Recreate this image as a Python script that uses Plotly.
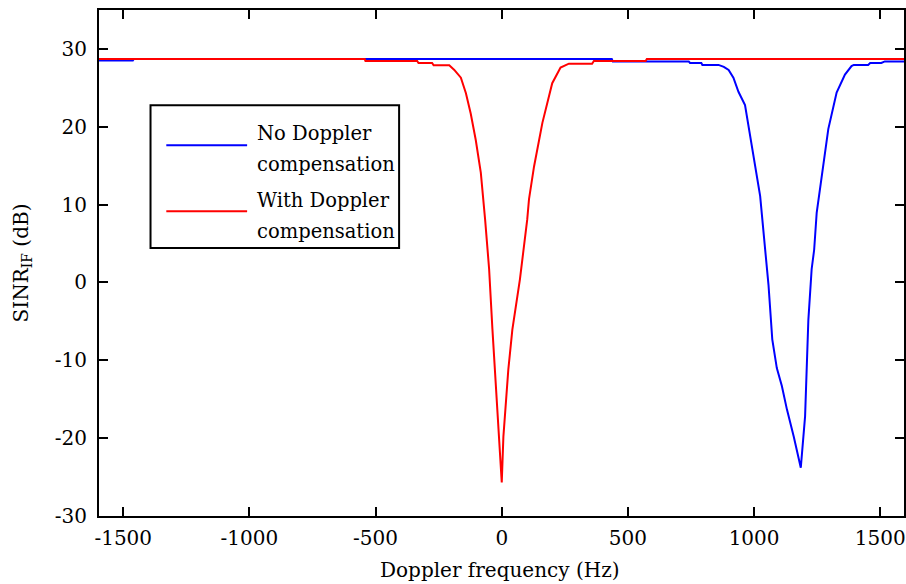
import plotly.graph_objects as go

# ---- data ----
freq_no_comp = [-1600, -1462, -1458, 436, 440, 741, 746, 791, 795, 859, 880, 899, 918, 938,
                964, 984, 1004, 1024, 1043, 1057, 1072, 1090, 1110, 1130, 1157, 1185, 1202,
                1215, 1228, 1238, 1248, 1274, 1294, 1327, 1360, 1386, 1395, 1452, 1460, 1504,
                1518, 1600]
sinr_no_comp = [28.5, 28.5, 28.7, 28.7, 28.4, 28.4, 28.2, 28.2, 27.95, 27.95, 27.7, 27.3, 26.3,
                24.5, 22.8, 18.8, 14.9, 11.1, 4.5, -0.3, -7.3, -11.0, -13.3, -16.3, -19.8, -23.8,
                -17.2, -4.8, 1.7, 4.2, 8.95, 14.9, 19.7, 24.4, 26.7, 27.8, 27.95, 27.95, 28.2,
                28.2, 28.4, 28.4]

freq_with_comp = [-1600, -543, -540, -335, -330, -276, -270, -208, -188, -162, -142, -123, -103,
                  -83, -66, -50, -37, -24, -11, 0, 6.5, 26, 42, 72, 101, 108, 128, 161, 200, 233,
                  266, 358, 365, 570, 575, 1600]
sinr_with_comp = [28.7, 28.7, 28.45, 28.45, 28.2, 28.2, 27.9, 27.9, 27.3, 26.3, 24.3, 21.7, 18.3,
                  14.1, 8.1, 1.7, -6.0, -13.3, -19.8, -25.7, -19.8, -11.2, -6.05, 0.4, 8.1, 10.7,
                  14.9, 20.5, 25.6, 27.6, 28.1, 28.1, 28.45, 28.45, 28.7, 28.7]

x_ticks = [-1500, -1000, -500, 0, 500, 1000, 1500]
y_ticks = [-30, -20, -10, 0, 10, 20, 30]
x_title = "Doppler frequency (Hz)"
y_title = "SINR<sub>IF</sub> (dB)"
legend_labels = [["No Doppler", "compensation"], ["With Doppler", "compensation"]]
colors = ["#0000FF", "#FF0000"]

FONT = "DejaVu Serif"

fig = go.Figure()
fig.add_trace(go.Scatter(x=freq_no_comp, y=sinr_no_comp, mode="lines",
                         line=dict(color=colors[0], width=2), name="No Doppler compensation",
                         showlegend=False))
fig.add_trace(go.Scatter(x=freq_with_comp, y=sinr_with_comp, mode="lines",
                         line=dict(color=colors[1], width=2), name="With Doppler compensation",
                         showlegend=False))

axis_common = dict(showline=True, linecolor="black", linewidth=2, mirror="ticks",
                   ticks="inside", ticklen=9, tickwidth=2, tickcolor="black",
                   showgrid=False, zeroline=False,
                   tickfont=dict(family=FONT, size=20, color="black"))

fig.update_xaxes(range=[-1596, 1594], tickvals=x_ticks,
                 ticktext=[str(v) for v in x_ticks], ticklabelstandoff=3,
                 **axis_common)
fig.update_yaxes(range=[-30, 35], tickvals=y_ticks,
                 ticktext=[str(v) for v in y_ticks], ticklabelstandoff=6,
                 title=dict(text=y_title, standoff=21,
                            font=dict(family=FONT, size=20, color="black")),
                 **axis_common)

# x-axis title placed as an annotation for exact vertical placement
fig.add_annotation(xref="paper", yref="paper", x=0.4975, y=-0.1067, xanchor="center",
                   yanchor="middle", showarrow=False, text=x_title,
                   font=dict(family=FONT, size=20, color="black"))

# ---- hand-drawn legend box (matches the reference's long sample lines) ----
box = dict(x0=0.064, x1=0.3728, y0=0.5294, y1=0.8116)
fig.add_shape(type="rect", xref="paper", yref="paper", line=dict(color="black", width=2),
              fillcolor="white", layer="above", **box)
sample_y = [0.7327, 0.6024]
text_y = [[0.755, 0.6937], [0.6245, 0.5632]]
for lines, col, ly, tys in zip(legend_labels, colors, sample_y, text_y):
    fig.add_shape(type="line", xref="paper", yref="paper", x0=0.0836, x1=0.184, y0=ly, y1=ly,
                  line=dict(color=col, width=2), layer="above")
    for txt, ty in zip(lines, tys):
        fig.add_annotation(xref="paper", yref="paper", x=0.1943, y=ty,
                           xanchor="left", yanchor="middle", align="left", showarrow=False,
                           text=txt, font=dict(family=FONT, size=19.5, color="black"))

fig.update_layout(width=906, height=584, margin=dict(l=99, r=0, t=10, b=68),
                  plot_bgcolor="white", paper_bgcolor="white",
                  font=dict(family=FONT, color="black"))

fig.write_html("out.html")
